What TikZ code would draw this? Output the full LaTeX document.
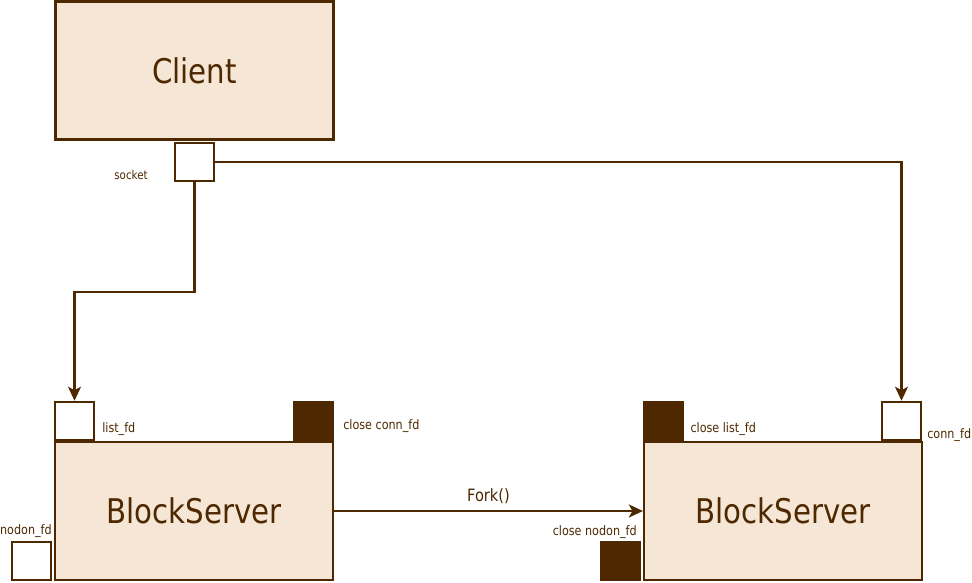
\documentclass[tikz,border=0pt]{standalone}
\usepackage{fontspec}
\setmainfont{DejaVu Sans}[FakeStretch=0.86]
\usepackage{xcolor}
\usepackage{tikz}
\usetikzlibrary{arrows.meta, positioning}

\definecolor{umber}{HTML}{4D2800}
\definecolor{sand}{HTML}{F6E6D6}

\begin{document}
\begin{tikzpicture}[
    x=1pt, y=-1pt,
    node distance=0pt,
    block/.style={
        draw=umber,
        fill=sand,
        text=umber,
        minimum width=278pt,
        minimum height=138pt,
        inner sep=0pt,
        line width=2.2pt,
        font=\fontsize{34}{40}\selectfont
    },
    port/.style={
        draw=umber,
        fill=white,
        minimum width=39pt,
        minimum height=38pt,
        inner sep=0pt,
        line width=2.2pt
    },
    shut/.style={
        fill=umber,
        minimum width=41pt,
        minimum height=40pt,
        inner sep=0pt
    },
    lbl/.style={
        text=umber,
        inner sep=0pt,
        font=\fontsize{13}{15}\selectfont
    },
    link/.style={
        draw=umber,
        -{Stealth[length=14pt, width=13pt, inset=3.5pt]},
        line width=2.2pt
    }
]
\useasboundingbox (0,0) rectangle (972,582);

% Client
\node[block] (client) at (194.5,70.5) {Client};
\node[port, below=1pt of client] (sock) {};
\node[lbl, font=\fontsize{12}{14}\selectfont, left=26pt of sock, yshift=-13pt] (socklbl) {socket};

% Left server
\node[block] (srvA) at (194,511) {BlockServer};
\node[port, above right=0pt and 0pt of srvA.north west] (lsn) {};
\node[lbl, above right=8pt and 7pt of lsn.south east, anchor=base west] (lsnlbl) {list\_fd};
\node[shut, above left=0pt and 0pt of srvA.north east] (clsconn) {};
\node[lbl, above right=11pt and 9pt of clsconn.south east, anchor=base west] (clsconnlbl) {close conn\_fd};
\node[port, left=2pt of srvA.south west, anchor=south east] (ndn) {};
\node[lbl, above=6pt of ndn.north east, anchor=base east] (ndnlbl) {nodon\_fd};

% Right server
\node[block] (srvB) at (783,511) {BlockServer};
\node[shut, above right=0pt and 0pt of srvB.north west] (clslsn) {};
\node[lbl, above right=8pt and 6pt of clslsn.south east, anchor=base west] (clslsnlbl) {close list\_fd};
\node[port, above left=0pt and 1pt of srvB.north east] (conn) {};
\node[lbl, above right=2pt and 5pt of conn.south east, anchor=base west] (connlbl) {conn\_fd};
\node[shut, left=2pt of srvB.south west, anchor=south east] (clsndn) {};
\node[lbl, above=5pt of clsndn.north east, anchor=base east, xshift=-4pt] (clsndnlbl) {close nodon\_fd};

% Connectors
\coordinate[below=110pt of sock.south] (turn);
\draw[link] (sock.south) -- (turn) -| (lsn.north);
\draw[link] (sock.east) -| (conn.north);
\draw[link] (srvA.east) -- node[lbl, font=\fontsize{17}{20}\selectfont, above=6pt] (forklbl) {Fork()} (srvB.west);

\end{tikzpicture}
\end{document}
